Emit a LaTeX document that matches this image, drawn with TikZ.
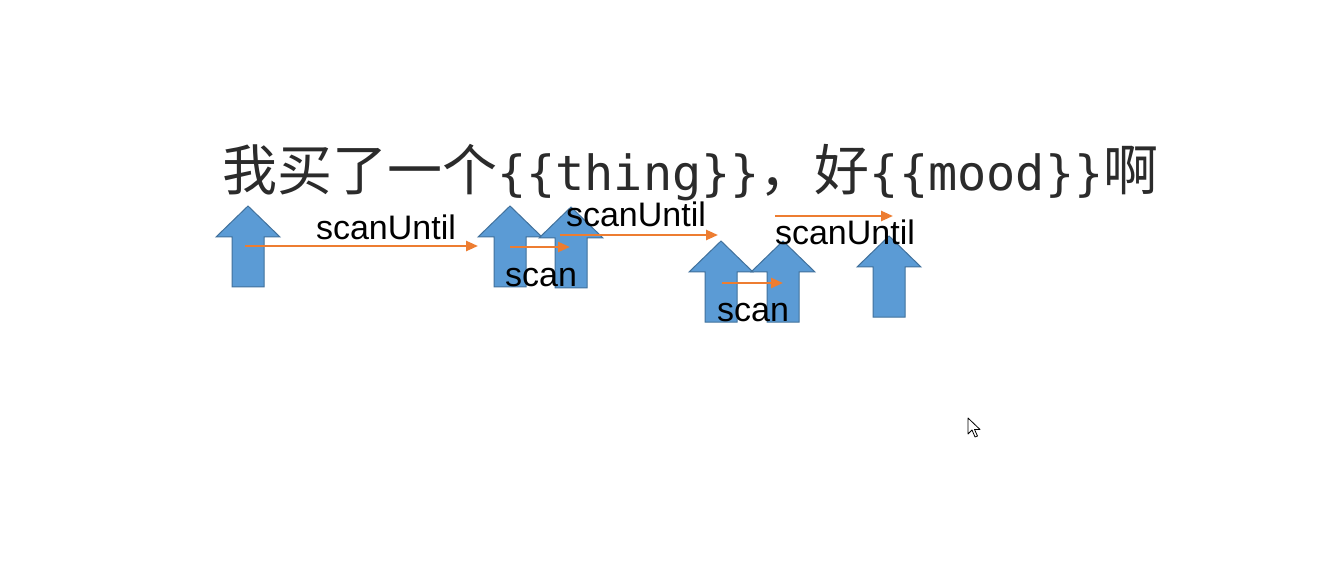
\documentclass[tikz,border=0pt]{standalone}
\usepackage{fontspec}
\setmainfont{Liberation Sans}
\setmonofont{DejaVu Sans Mono}
\newfontfamily\cjk{Noto Sans CJK SC}
\usetikzlibrary{arrows.meta}
\definecolor{blockblue}{HTML}{5B9BD5}
\definecolor{blockedge}{HTML}{41719C}
\definecolor{scanorange}{HTML}{ED7D31}
\definecolor{titlegray}{HTML}{2B2B2B}

\begin{document}
\begin{tikzpicture}[x=1pt, y=-1pt,
    pointer/.style={fill=blockblue, draw=blockedge, line width=1pt},
    scanline/.style={draw=scanorange, line width=2.5pt,
                     -{Triangle[length=12pt, width=10pt]}},
    lbl/.style={anchor=base, inner sep=0pt, font=\fontsize{34}{40}\selectfont}]
    \useasboundingbox[fill=white] (0,0) rectangle (1338,561);
    \node[anchor=base west, inner sep=0pt, text=titlegray] (title) at (222,191)
      {{\cjk\fontsize{55}{60}\selectfont 我买了一个}%
       {\ttfamily\fontsize{48.5}{60}\selectfont \{\{thing\}\}}%
       {\cjk\fontsize{55}{60}\selectfont ，好}%
       {\ttfamily\fontsize{48.5}{60}\selectfont \{\{mood\}\}}%
       {\cjk\fontsize{55}{60}\selectfont 啊}};
    \foreach \x/\y/\n in {248/206/p1, 510/206/p2, 571/207/p3,
                          721/241/p4, 783/241/p5, 889/236/p6} {
      \draw[pointer] (\x,\y) -- ++(32,31) -- ++(-16,0) -- ++(0,50) -- ++(-32,0)
        -- ++(0,-50) -- ++(-16,0) -- cycle;
      \coordinate (\n) at (\x,\y+40);
    }
    \coordinate (s1) at (245,246);  \coordinate (e1) at (478,246);
    \coordinate (s2) at (510,247);  \coordinate (e2) at (570,247);
    \coordinate (s3) at (560,235);  \coordinate (e3) at (718,235);
    \coordinate (s4) at (722,283);  \coordinate (e4) at (783,283);
    \coordinate (s5) at (775,216);  \coordinate (e5) at (893,216);
    \foreach \n in {1,...,5}
      \draw[scanline] (s\n) -- (e\n);
    \node[lbl] (l1) at (386,240) {scanUntil};
    \node[lbl] (l2) at (541,287) {scan};
    \node[lbl] (l3) at (636,227) {scanUntil};
    \node[lbl] (l4) at (753,321) {scan};
    \node[lbl] (l5) at (845,245) {scanUntil};
    \draw[fill=white, line width=0.8pt, line join=round] (968,418) -- (968,434)
      -- (972,430) -- (975,437) -- (977.5,436) -- (974.5,429.5) -- (980,429.5) -- cycle;
\end{tikzpicture}
\end{document}
